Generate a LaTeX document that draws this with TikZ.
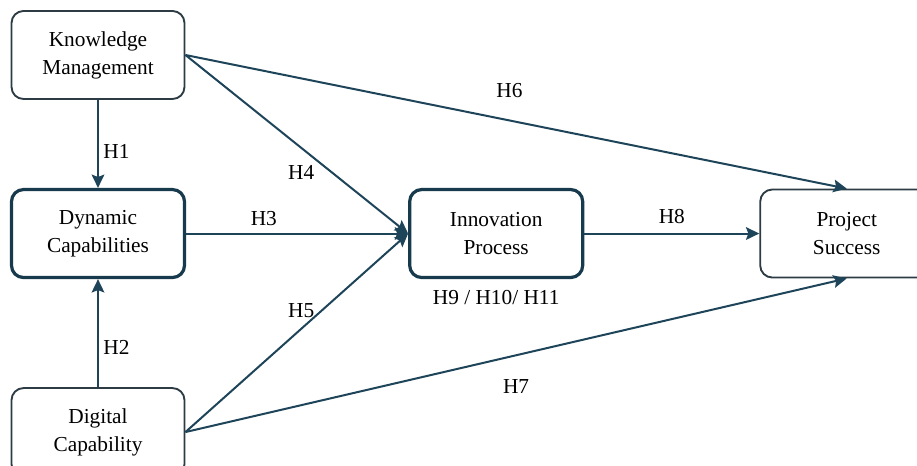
\documentclass[tikz,border=0pt]{standalone}
\usepackage{fontspec}
\setmainfont{Liberation Serif}
\usepackage{xcolor}
\definecolor{ModelInk}{HTML}{1E4459}
\definecolor{ModelEdge}{HTML}{2C3B44}
\definecolor{ModelCore}{HTML}{173A4D}
\usepackage{tikz}
\usetikzlibrary{positioning,arrows.meta}
\tikzset{
  mbox/.style={draw=ModelEdge,line width=1.4pt,fill=white,rounded corners=9pt,align=center,
    minimum width=129.75pt,minimum height=66pt,inner sep=4pt,font=\fontsize{16}{21}\selectfont},
  mcore/.style={mbox,draw=ModelCore,line width=2.4pt},
  mflow/.style={-{Stealth[length=10pt,width=9.5pt,inset=1.8pt]},draw=ModelInk,line width=1.5pt},
  mlabel/.style={font=\fontsize{16}{19}\selectfont,text=black}
}
\begin{document}
\begin{tikzpicture}
  \useasboundingbox (0,0) rectangle (687.75pt,-349.5pt);
  \node[mbox] (km) at (73.5pt,-41.25pt) {Knowledge\\Management};
  \node[mcore,below=66pt of km] (dyncap) {Dynamic\\Capabilities};
  \node[mbox,below=81pt of dyncap] (digcap) {Digital\\Capability};
  \node[mcore,right=166.5pt of dyncap] (innov) {Innovation\\Process};
  \node[mbox,right=131.25pt of innov] (success) {Project\\Success};
  \node[mlabel,below=5pt of innov] (hmed) {H9 / H10/ H11};
  \draw[mflow] (km) -- node[mlabel,pos=0.58,right] (h1) {H1} (dyncap);
  \draw[mflow] (digcap) -- node[mlabel,pos=0.37,right] (h2) {H2} (dyncap);
  \draw[mflow] (dyncap) -- node[mlabel,pos=0.35,above=2pt] (h3) {H3} (innov);
  \draw[mflow] (km.east) -- node[mlabel,pos=0.52,below=9pt] (h4) {H4} (innov.west);
  \draw[mflow] (digcap.east) -- node[mlabel,pos=0.52,above=4pt] (h5) {H5} (innov.west);
  \draw[mflow] (km.east) -- node[mlabel,pos=0.49,above=13pt] (h6) {H6} (success.north);
  \draw[mflow] (digcap.east) -- node[mlabel,pos=0.50,below=14pt] (h7) {H7} (success.south);
  \draw[mflow] (innov) -- node[mlabel,above=3pt] (h8) {H8} (success);
\end{tikzpicture}
\end{document}
